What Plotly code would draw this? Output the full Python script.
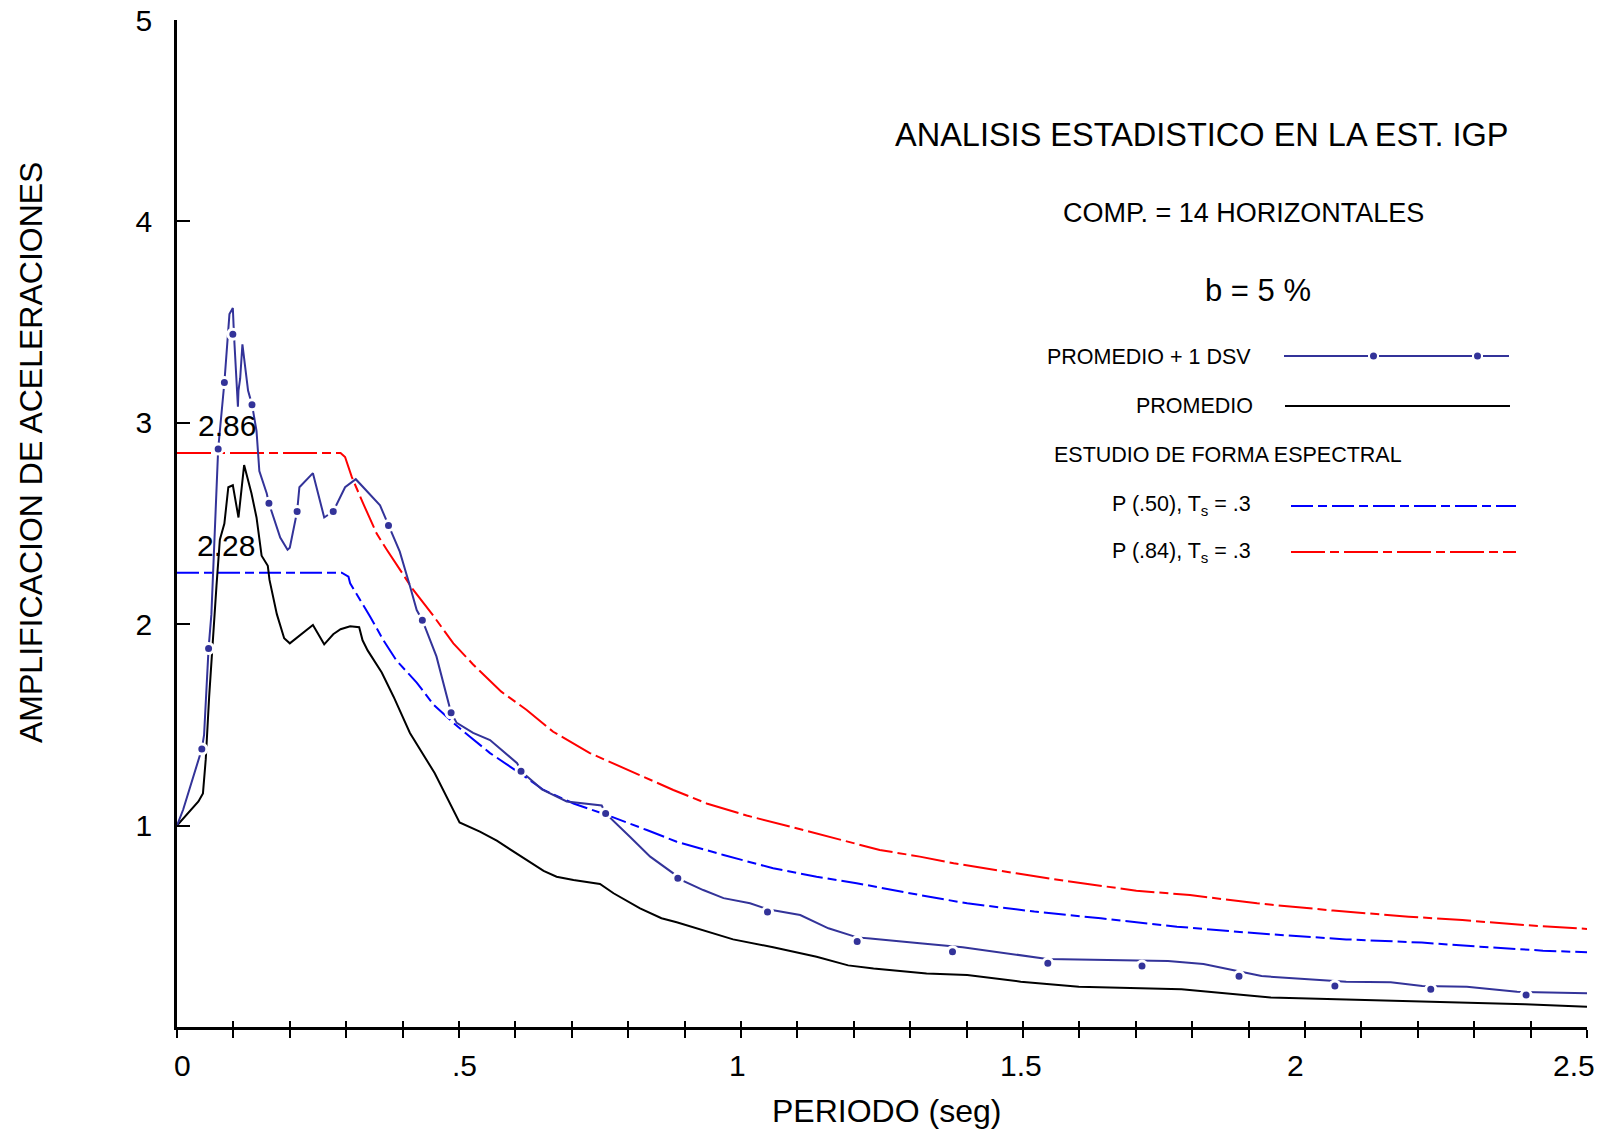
import plotly.graph_objects as go

# ---------------- data ----------------
dsv_x = [0, 0.011, 0.044, 0.048, 0.056, 0.061, 0.073, 0.084, 0.093, 0.099, 0.101, 0.108, 0.109, 0.112,
         0.116, 0.126, 0.129, 0.133, 0.141, 0.146, 0.159, 0.163, 0.183, 0.196, 0.200, 0.213, 0.217,
         0.241, 0.261, 0.277, 0.298, 0.317, 0.360, 0.375, 0.395, 0.413, 0.425, 0.435, 0.460, 0.486,
         0.496, 0.525, 0.555, 0.603, 0.610, 0.647, 0.691, 0.753, 0.760, 0.803, 0.839, 0.880, 0.888,
         0.933, 0.969, 1.016, 1.047, 1.105, 1.155, 1.206, 1.229, 1.317, 1.393, 1.543, 1.701, 1.757,
         1.820, 1.872, 1.923, 2.026, 2.073, 2.152, 2.208, 2.287, 2.376, 2.50]
dsv_y = [1.0, 1.08, 1.38, 1.45, 1.88, 2.05, 2.87, 3.20, 3.54, 3.57, 3.44, 3.08, 3.16, 3.22,
         3.39, 3.16, 3.13, 3.09, 2.96, 2.76, 2.65, 2.60, 2.43, 2.37, 2.38, 2.56, 2.68,
         2.75, 2.53, 2.56, 2.68, 2.72, 2.59, 2.49, 2.36, 2.19, 2.07, 2.02, 1.84, 1.56,
         1.51, 1.46, 1.425, 1.31, 1.27, 1.18, 1.12, 1.10, 1.06, 0.945, 0.846, 0.763, 0.738,
         0.68, 0.64, 0.614, 0.585, 0.556, 0.49, 0.445, 0.44, 0.416, 0.396, 0.338, 0.333, 0.328,
         0.313, 0.283, 0.253, 0.233, 0.225, 0.222, 0.204, 0.20, 0.175, 0.167]

dsv_dot_x = [0.044, 0.056, 0.073, 0.084, 0.099, 0.133, 0.163, 0.213, 0.277, 0.375, 0.435, 0.486,
             0.610, 0.760, 0.888, 1.047, 1.206, 1.375, 1.544, 1.711, 1.883, 2.053, 2.223, 2.392]
dsv_dot_y = [1.38, 1.88, 2.87, 3.20, 3.44, 3.09, 2.60, 2.56, 2.56, 2.49, 2.02, 1.56,
             1.27, 1.06, 0.738, 0.571, 0.424, 0.374, 0.316, 0.303, 0.252, 0.204, 0.187, 0.159]

prom_x = [0, 0.038, 0.046, 0.051, 0.057, 0.064, 0.070, 0.076, 0.084, 0.091, 0.099, 0.109, 0.119,
          0.132, 0.141, 0.150, 0.161, 0.164, 0.177, 0.190, 0.200, 0.241, 0.261, 0.277, 0.290,
          0.307, 0.323, 0.329, 0.338, 0.363, 0.384, 0.413, 0.457, 0.501, 0.537, 0.567, 0.602,
          0.650, 0.673, 0.703, 0.750, 0.774, 0.821, 0.859, 0.886, 0.939, 0.986, 1.057, 1.134,
          1.190, 1.235, 1.329, 1.401, 1.496, 1.599, 1.781, 1.868, 1.939, 2.073, 2.232, 2.390, 2.50]
prom_y = [1.0, 1.12, 1.16, 1.33, 1.64, 1.97, 2.19, 2.42, 2.50, 2.68, 2.69, 2.53, 2.79,
          2.65, 2.53, 2.34, 2.29, 2.22, 2.05, 1.93, 1.905, 1.996, 1.90, 1.95, 1.975,
          1.99, 1.985, 1.92, 1.87, 1.76, 1.64, 1.46, 1.26, 1.016, 0.97, 0.925, 0.862,
          0.775, 0.746, 0.73, 0.71, 0.664, 0.589, 0.54, 0.52, 0.473, 0.435, 0.396, 0.349,
          0.306, 0.29, 0.266, 0.258, 0.225, 0.20, 0.187, 0.164, 0.147, 0.137, 0.124, 0.113, 0.10]

p84_x = [0, 0.290, 0.298, 0.310, 0.330, 0.354, 0.372, 0.395, 0.419, 0.455, 0.490, 0.525, 0.575,
         0.620, 0.667, 0.732, 0.809, 0.880, 0.939, 1.010, 1.087, 1.176, 1.246, 1.317, 1.377,
         1.488, 1.583, 1.701, 1.796, 1.915, 2.050, 2.184, 2.279, 2.390, 2.50]
p84_y = [2.85, 2.85, 2.83, 2.73, 2.60, 2.45, 2.37, 2.27, 2.17, 2.04, 1.905, 1.80, 1.665,
         1.574, 1.466, 1.36, 1.263, 1.177, 1.11, 1.05, 0.995, 0.928, 0.879, 0.846, 0.813,
         0.763, 0.722, 0.677, 0.655, 0.614, 0.578, 0.548, 0.531, 0.506, 0.487]

p50_x = [0, 0.292, 0.304, 0.307, 0.342, 0.366, 0.389, 0.425, 0.455, 0.490, 0.520, 0.555, 0.608,
         0.650, 0.703, 0.762, 0.833, 0.886, 0.969, 1.057, 1.134, 1.205, 1.317, 1.401, 1.520,
         1.638, 1.773, 1.915, 2.073, 2.207, 2.310, 2.422, 2.50]
p50_y = [2.256, 2.256, 2.236, 2.203, 2.04, 1.92, 1.82, 1.71, 1.60, 1.51, 1.44, 1.36, 1.26,
         1.177, 1.11, 1.053, 0.978, 0.92, 0.854, 0.788, 0.746, 0.714, 0.655, 0.614, 0.573,
         0.54, 0.498, 0.465, 0.435, 0.419, 0.399, 0.379, 0.371]

x_tickvals = [0, 0.5, 1, 1.5, 2, 2.5]
x_ticktext = ["0", ".5", "1", "1.5", "2", "2.5"]
y_tickvals = [1, 2, 3, 4, 5]
y_ticktext = ["1", "2", "3", "4", "5"]

label_values = [2.86, 2.28]

# ---------------- styling ----------------
FONT = "Liberation Sans, Arial, sans-serif"
NAVY = "#333399"
RED = "#ff0000"
BLUE = "#0000ff"
DASH84 = "34px,5px,9px,5px"
DASH50 = "22px,5px,9px,5px"
TICK_SIZE = 30
# small horizontal nudges (px) of the x tick labels, as placed in the original
X_LABEL_NUDGE = [5, 5, -4, -2, -10, -13]

W, H = 1604, 1134
L, R, T, B = 177, 1587, 20, 1027  # on-screen plot area


def px(x):
    return (x - L) / (R - L)


def py(y):
    return (B - y) / (B - T)


fig = go.Figure()
fig.add_trace(go.Scatter(x=p84_x, y=p84_y, mode="lines",
                         line=dict(color=RED, width=2, dash=DASH84)))
fig.add_trace(go.Scatter(x=p50_x, y=p50_y, mode="lines",
                         line=dict(color=BLUE, width=2, dash=DASH50)))
fig.add_trace(go.Scatter(x=prom_x, y=prom_y, mode="lines",
                         line=dict(color="black", width=2)))
fig.add_trace(go.Scatter(x=dsv_x, y=dsv_y, mode="lines",
                         line=dict(color=NAVY, width=2)))
fig.add_trace(go.Scatter(x=dsv_dot_x, y=dsv_dot_y, mode="markers", cliponaxis=False,
                         marker=dict(color=NAVY, size=10, line=dict(color="white", width=3))))
# invisible trace to create the overlay axis for the inner half of the x ticks
fig.add_trace(go.Scatter(x=prom_x, y=prom_y, mode="lines", xaxis="x2", opacity=0,
                         line=dict(width=0), hoverinfo="skip"))

fig.update_layout(
    width=W, height=H,
    margin=dict(l=L, r=W - R, t=T, b=H - B, pad=0),
    paper_bgcolor="white", plot_bgcolor="white",
    showlegend=False,
    font=dict(family=FONT, color="black"),
    xaxis=dict(range=[0, 2.5], showgrid=False, zeroline=False, automargin=False,
               showline=True, linecolor="black", linewidth=2.5,
               ticks="outside", ticklen=8, tickwidth=1.5, tickcolor="black",
               tickmode="array", tickvals=x_tickvals, showticklabels=False,
               minor=dict(dtick=0.1, tick0=0, ticks="outside", ticklen=8,
                          tickwidth=1.5, tickcolor="black", showgrid=False)),
    xaxis2=dict(range=[0, 2.5], overlaying="x", anchor="y", side="bottom", automargin=False,
                showgrid=False, zeroline=False, showline=False,
                ticks="inside", ticklen=6, tickwidth=1.5, tickcolor="black",
                tickmode="linear", tick0=0, dtick=0.1, showticklabels=False),
    yaxis=dict(range=[0, 5.0001], showgrid=False, zeroline=False, automargin=False,
               showline=True, linecolor="black", linewidth=2.5,
               ticks="inside", ticklen=13, tickwidth=1.5, tickcolor="black",
               tickmode="array", tickvals=y_tickvals, ticktext=y_ticktext,
               ticklabeloverflow="allow",
               tickfont=dict(size=TICK_SIZE, family=FONT), ticklabelstandoff=16),
)

ann = []

# x tick labels placed on the x scale
for v, t, dx in zip(x_tickvals, x_ticktext, X_LABEL_NUDGE):
    ann.append(dict(xref="x", yref="paper", x=v, y=py(1065), text=t, showarrow=False,
                    xanchor="center", yanchor="middle", xshift=dx,
                    font=dict(size=TICK_SIZE, family=FONT, color="black")))


def text(x, y, s, size, xanchor="center", angle=0):
    ann.append(dict(xref="paper", yref="paper", x=px(x), y=py(y), text=s,
                    showarrow=False, xanchor=xanchor, yanchor="middle",
                    textangle=angle, font=dict(size=size, family=FONT, color="black")))


text(31, 453, "AMPLIFICACION DE ACELERACIONES", 32, angle=-90)
text(886, 1111, "PERIODO (seg)", 32)
text(1201, 135, "ANALISIS ESTADISTICO EN LA EST. IGP", 32.5)
text(1243, 213, "COMP. = 14 HORIZONTALES", 27)
text(1258, 290, "b = 5 %", 31)
text(1253, 357, "PROMEDIO + 1 DSV", 21.5, xanchor="right")
text(1255, 406, "PROMEDIO", 21.5, xanchor="right")
text(1052, 455, "ESTUDIO DE FORMA ESPECTRAL", 21.5, xanchor="left")
text(1253, 505, "P (.50), T<sub>s</sub> = .3", 21.5, xanchor="right")
text(1253, 552, "P (.84), T<sub>s</sub> = .3", 21.5, xanchor="right")
text(227, 425, f"{label_values[0]:.2f}", 30)
text(226, 545, f"{label_values[1]:.2f}", 30)
fig.update_layout(annotations=ann)

shapes = []


def seg(x0, x1, y, color, dash="solid"):
    shapes.append(dict(type="line", xref="paper", yref="paper",
                       x0=px(x0), x1=px(x1), y0=py(y), y1=py(y),
                       line=dict(color=color, width=2, dash=dash)))


def dot(x, y, color):
    shapes.append(dict(type="circle", xref="paper", yref="paper",
                       xsizemode="pixel", ysizemode="pixel",
                       xanchor=px(x), yanchor=py(y), x0=-3.5, x1=3.5, y0=-3.5, y1=3.5,
                       fillcolor=color, line=dict(color=color, width=0)))


seg(1284, 1368, 356, NAVY)
seg(1379, 1472, 356, NAVY)
seg(1483, 1509, 356, NAVY)
dot(1373.5, 356, NAVY)
dot(1477.5, 356, NAVY)
seg(1285, 1510, 406, "black")
seg(1291, 1516, 506, BLUE, DASH50)
seg(1291, 1516, 552, RED, DASH84)
fig.update_layout(shapes=shapes)

# remove the browser's default page margin so the figure sits at the window corner
fig.write_html("out.html",
               config={"displayModeBar": False},
               post_script="document.body.style.margin='0';document.body.style.overflow='hidden';")
